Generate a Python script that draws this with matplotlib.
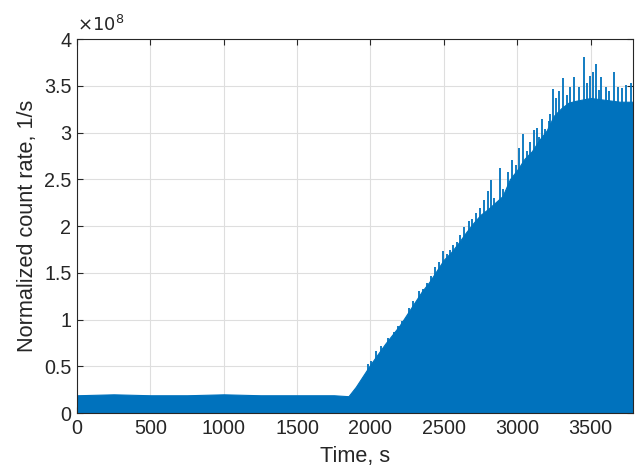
import numpy as np
import matplotlib.pyplot as plt
from matplotlib.ticker import FuncFormatter

plt.rcParams["font.family"] = ["Liberation Sans", "DejaVu Sans"]

# main body of the signal (upper level of the dense trace), rate in units of 1e8 1/s
body_t = [0, 250, 500, 750, 1000, 1250, 1500, 1750, 1850, 1900, 1950, 2000, 2050, 2100,
          2150, 2200, 2250, 2300, 2350, 2400, 2450, 2500, 2550, 2600, 2650, 2700, 2750,
          2800, 2850, 2900, 2950, 3000, 3050, 3100, 3150, 3200, 3250, 3300, 3350, 3400,
          3500, 3600, 3700, 3790]
body_rate = [0.19, 0.20, 0.19, 0.19, 0.20, 0.19, 0.19, 0.19, 0.18, 0.28, 0.40, 0.52, 0.63,
             0.74, 0.84, 0.94, 1.06, 1.18, 1.30, 1.40, 1.52, 1.64, 1.72, 1.82, 1.93, 2.03,
             2.12, 2.18, 2.25, 2.32, 2.50, 2.60, 2.72, 2.80, 2.92, 3.02, 3.18, 3.26, 3.32,
             3.34, 3.37, 3.35, 3.33, 3.33]

# isolated spikes sticking out above the body
spike_t = [1980, 2005, 2040, 2075, 2120, 2158, 2185, 2215, 2260, 2290, 2328, 2355, 2385,
           2415, 2442, 2470, 2494, 2520, 2544, 2565, 2590, 2612, 2635, 2670, 2692, 2720,
           2749, 2775, 2799, 2822, 2840, 2881, 2900, 2935, 2965, 2990, 3015, 3038, 3067,
           3090, 3117, 3135, 3147, 3170, 3190, 3215, 3225, 3242, 3267, 3288, 3311, 3340,
           3363, 3386, 3420, 3458, 3477, 3499, 3518, 3538, 3556, 3574, 3602, 3624, 3658,
           3686, 3715, 3745, 3777]
spike_rate = [0.52, 0.56, 0.66, 0.72, 0.80, 0.87, 0.93, 0.98, 1.12, 1.20, 1.30, 1.33, 1.39,
              1.47, 1.56, 1.62, 1.73, 1.70, 1.74, 1.80, 1.83, 1.90, 1.99, 2.05, 2.08, 2.14,
              2.19, 2.28, 2.38, 2.49, 2.30, 2.62, 2.40, 2.58, 2.71, 2.65, 2.83, 2.99, 2.80,
              2.90, 3.03, 3.05, 2.95, 3.15, 3.04, 3.12, 3.20, 3.47, 3.37, 3.44, 3.58, 3.40,
              3.49, 3.59, 3.49, 3.81, 3.53, 3.60, 3.65, 3.73, 3.46, 3.59, 3.49, 3.44, 3.65,
              3.49, 3.48, 3.51, 3.53]

blue = "#0072BD"
text_col = "#262626"

fig = plt.figure(figsize=(6.35, 4.71), dpi=100)
ax = fig.add_axes([0.1213, 0.1231, 0.8757, 0.7939])

ax.fill_between(body_t, 0, body_rate, color=blue, lw=0.8, edgecolor=blue)
ax.vlines(spike_t, 0, spike_rate, color=blue, lw=1.3)

ax.set_xlim(0, 3790)
ax.set_ylim(0, 4)
ax.set_xticks(np.arange(0, 3501, 500))
ax.set_yticks(np.arange(0, 4.01, 0.5))
ax.yaxis.set_major_formatter(FuncFormatter(lambda v, p: f"{v:g}"))

ax.grid(True, color="#dedede", lw=0.8)
ax.set_axisbelow(True)
ax.tick_params(direction="in", top=True, right=True, labelsize=14.2,
               colors=text_col, length=4, width=0.8, pad=4)
for s in ax.spines.values():
    s.set_color("#262626")
    s.set_linewidth(0.8)

ax.set_xlabel("Time, s", fontsize=15.6, color=text_col, labelpad=6)
ax.set_ylabel("Normalized count rate, 1/s", fontsize=15.6, color=text_col, labelpad=4)
ax.text(0.0, 1.01, r"$\times10^{8}$", transform=ax.transAxes, fontsize=13,
        color=text_col, ha="left", va="bottom")

fig.savefig("out.png", dpi=100)
